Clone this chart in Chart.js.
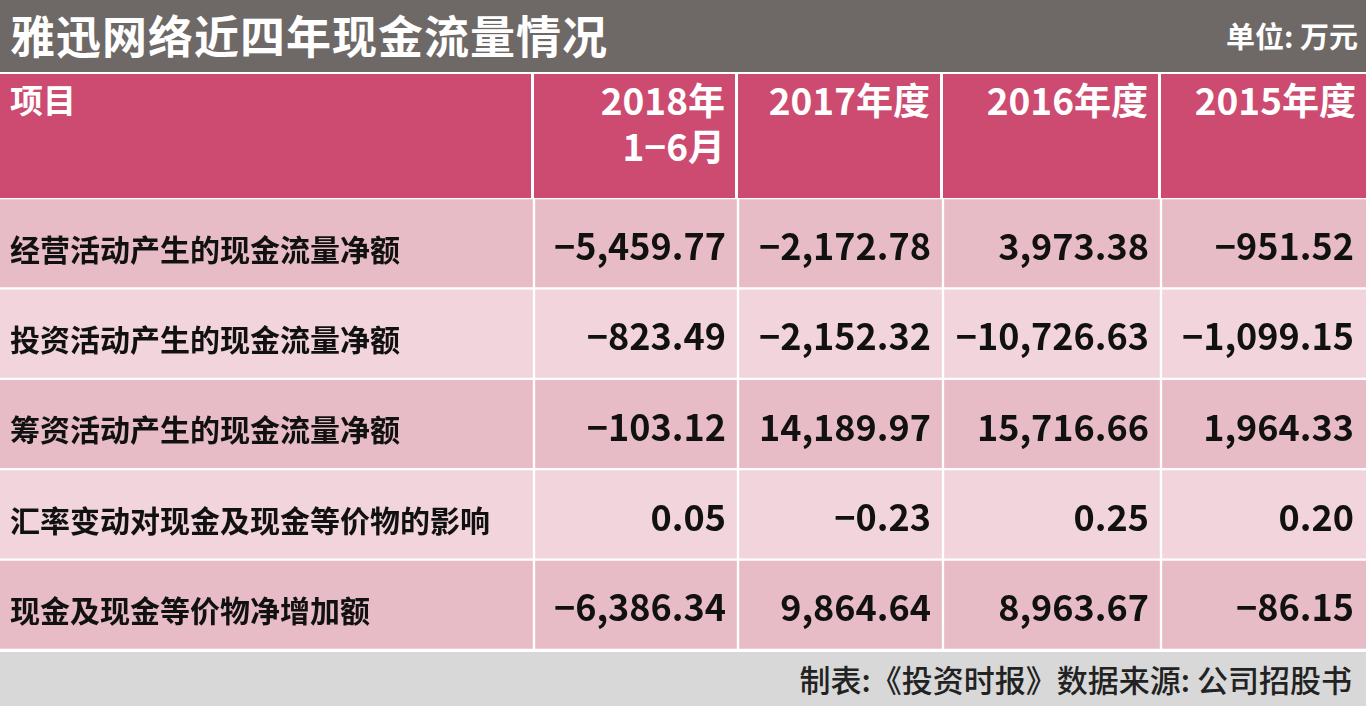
<!DOCTYPE html>
<html><head><meta charset="utf-8">
<script src="https://cdn.jsdelivr.net/npm/chart.js@4/dist/chart.umd.min.js"></script>
<style>
body{margin:0;width:1366px;height:706px;overflow:hidden;font-family:"Noto Sans CJK SC",sans-serif;background:#fff}
#title{position:absolute;left:0;top:0;width:1366px;height:72px;background:#6e6966;color:#fff}
#title .t{position:absolute;left:10px;top:2px;font-size:45px;font-weight:700;letter-spacing:1px}
#title .u{position:absolute;right:8px;top:14px;font-size:29px;font-weight:700}
#head{position:absolute;left:0;top:74px;width:1366px;height:124px;display:flex}
#head div{background:#cd4b70;color:#fff;font-size:37px;font-weight:700;box-sizing:border-box;padding:2px 10px;margin-right:3px;line-height:46px;text-align:right}
#head div:first-child{text-align:left;font-size:33px}
#head div:last-child{margin-right:0}
#wrap{position:absolute;left:0;top:198px;width:1366px;height:452px}
#foot{position:absolute;left:0;top:652px;width:1366px;height:54px;background:#d8d8d8;font-size:31px;font-weight:500;text-align:right;box-sizing:border-box;padding:4px 14px;color:#222}
</style></head><body>
<div id="title"><span class="t">雅迅网络近四年现金流量情况</span><span class="u">单位: 万元</span></div>
<div id="head"></div>
<div id="wrap"><canvas id="c"></canvas></div>
<div id="foot">制表:《投资时报》数据来源: 公司招股书</div>
<script>
const headers=["项目","2018年<br>1−6月","2017年度","2016年度","2015年度"];
const rowLabels=["经营活动产生的现金流量净额","投资活动产生的现金流量净额","筹资活动产生的现金流量净额","汇率变动对现金及现金等价物的影响","现金及现金等价物净增加额"];
const v2018=["−5,459.77","−823.49","−103.12","0.05","−6,386.34"];
const v2017=["−2,172.78","−2,152.32","14,189.97","−0.23","9,864.64"];
const v2016=["3,973.38","−10,726.63","15,716.66","0.25","8,963.67"];
const v2015=["−951.52","−1,099.15","1,964.33","0.20","−86.15"];
const colEdges=[0,534,738,943,1161,1366];
const h=document.getElementById('head');
headers.forEach((t,i)=>{const d=document.createElement('div');d.style.width=(colEdges[i+1]-colEdges[i]-(i<4?3:0))+'px';d.innerHTML=t;h.appendChild(d);});
const cols=[rowLabels,v2018,v2017,v2016,v2015];
const rowColors=rowLabels.map((_,i)=>i%2?'#f2d5dc':'#e8bcc6');
const datasets=cols.map((c,ci)=>({data:rowLabels.map(()=>[colEdges[ci],colEdges[ci+1]]),texts:c,backgroundColor:rowColors,borderColor:'#fff',borderWidth:{left:ci?1.5:0,right:ci<4?1.5:0,top:1.5,bottom:1.5},borderSkipped:false,categoryPercentage:1,barPercentage:1,grouped:false}));
const textPlugin={id:'txt',afterDatasetsDraw(ch){const ctx=ch.ctx;ctx.save();ctx.textBaseline='middle';
ch.data.datasets.forEach((ds,di)=>{ch.getDatasetMeta(di).data.forEach((b,i)=>{
const left=Math.min(b.x,b.base),right=Math.max(b.x,b.base);
ctx.fillStyle='#111';
if(di===0){ctx.font='600 30px "Noto Sans CJK SC"';ctx.textAlign='left';ctx.fillText(ds.texts[i],left+10,b.y+6);}
else{ctx.font='600 36px "Noto Sans CJK SC"';ctx.textAlign='right';ctx.fillText(ds.texts[i],right-12,b.y+3);}
});});ctx.restore();}};
new Chart(document.getElementById('c'),{type:'bar',data:{labels:rowLabels,datasets},
options:{indexAxis:'y',responsive:true,maintainAspectRatio:false,animation:false,layout:{padding:0},
scales:{x:{type:'linear',min:0,max:1366,display:false},y:{display:false}},
plugins:{legend:{display:false},tooltip:{enabled:false}}},plugins:[textPlugin]});
</script></body></html>
